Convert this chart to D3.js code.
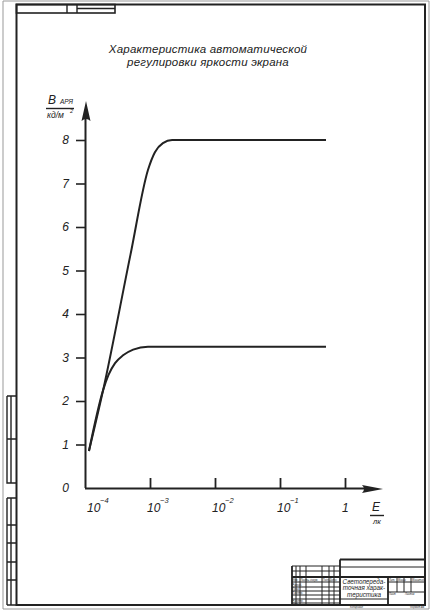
<!DOCTYPE html>
<html>
<head>
<meta charset="utf-8">
<script src="https://cdn.jsdelivr.net/npm/d3@7"></script>
<style>
  body { margin: 0; background: #fff; }
  svg text { font-family: "Liberation Sans", Arial, sans-serif; font-style: italic; fill: #222; }
</style>
</head>
<body>
<div id="chart"></div>
<script>
// x ticks (lux, log scale) and labels
var xTicks = [1e-4, 1e-3, 1e-2, 1e-1, 1];
var xExponents = ["\u22124", "\u22123", "\u22122", "\u22121", ""];
var xBases = ["10", "10", "10", "10", "1"];
// y ticks
var yTicks = [0, 1, 2, 3, 4, 5, 6, 7, 8];

// upper curve
var upperE = [1.15e-4, 1.9e-4, 5e-4, 9.3e-4, 1.19e-3, 1.58e-3, 2.19e-3, 0.51];
var upperB = [0.85, 2.25, 5.36, 7.31, 7.72, 7.93, 8.0, 8.0];
// lower curve
var lowerE = [1.15e-4, 1.9e-4, 2.3e-4, 2.9e-4, 3.85e-4, 5.5e-4, 9.3e-4, 0.51];
var lowerB = [0.85, 2.25, 2.6, 2.87, 3.05, 3.18, 3.25, 3.25];

var W = 431, H = 612;
var ink = "#222";

var svg = d3.select("#chart").append("svg")
    .attr("width", W).attr("height", H);

// ---- sheet frame ----
var sheet = svg.append("g").attr("fill", "none").attr("stroke", ink);
sheet.append("path").attr("d", "M3,1V609H429V1Z").attr("stroke", "#999").attr("stroke-width", 1);
sheet.append("rect").attr("x", 16.5).attr("y", 4.5).attr("width", 408.5).attr("height", 600.5).attr("stroke-width", 2);

// top-left stamp
sheet.append("rect").attr("x", 16.5).attr("y", 4.5).attr("width", 98.5).attr("height", 8.5).attr("stroke-width", 1.6);
sheet.append("path").attr("d", "M67,4.5V13M77,4.5V13M77,8.5H115").attr("stroke-width", 1.4);

// left side strips
var strip2 = [498, 525, 543, 562, 580, 605];
sheet.append("path").attr("stroke-width", 1.4)
    .attr("d", "M7,396V483H16M7,396H16M11,396V483M7,439H16");
sheet.append("path").attr("stroke-width", 1.4)
    .attr("d", "M7,498V605M11,498V605" + strip2.map(function(v){ return "M7," + v + "H16"; }).join(""));

// title block
var tb = svg.append("g").attr("fill", "none").attr("stroke", ink);
tb.append("path").attr("stroke-width", 1.8)
    .attr("d", "M340,559.5H425M340,559.5V605M292,566V605M292,577H425M388,577V605");
tb.append("path").attr("stroke-width", 1)
    .attr("d", "M340,567H425M292,566H340M292,571H340" +
        "M296,566V605M300,566V605M306,566V605M322,566V605M329,566V605M334,566V605" +
        "M292,582H340M292,587H340M292,591H340M292,595H340M292,599H340M292,603H340" +
        "M388,582H425M388,592H425M397,577V592M404,577V592M411,577V592M340,599H388");

var tbText = svg.append("g").style("font-size", "6.3px");
[["Светопереда-", 583.5], ["точная харак-", 590], ["теристика", 596.5]].forEach(function(d){
    tbText.append("text").attr("x", 364).attr("y", d[1]).attr("text-anchor", "middle").text(d[0]);
});
var tiny = svg.append("g").style("font-size", "2.6px").style("font-style", "normal");
[["Изм.", 292.5, 581], ["Лист", 300.5, 581], ["№ докум.", 306.5, 581], ["Подп.", 322.5, 581], ["Дата", 329.5, 581],
 ["Разраб.", 292.5, 586], ["Пров.", 292.5, 590], ["Т.контр.", 292.5, 594], ["Н.контр.", 292.5, 602], ["Утв.", 292.5, 604.5],
 ["Лит.", 389, 581], ["Масса", 398, 581], ["Масштаб", 412, 581], ["Лист", 389, 595], ["Листов", 405, 595],
 ["Копировал", 350, 608], ["Формат A4", 410, 608]].forEach(function(d){
    tiny.append("text").attr("x", d[1]).attr("y", d[2]).text(d[0]);
});

// ---- chart ----
var x = d3.scaleLog().domain([1e-4, 1]).range([85, 345]);
var y = d3.scaleLinear().domain([0, 8]).range([488, 140]);

// title
var title = svg.append("g").style("font-size", "11.5px").attr("text-anchor", "middle");
title.append("text").attr("x", 208).attr("y", 53).attr("letter-spacing", 0.2).text("Характеристика автоматической");
title.append("text").attr("x", 208).attr("y", 66).attr("letter-spacing", 0.2).text("регулировки яркости экрана");

// x axis ticks (pointing up), no labels from the axis
var xAxis = d3.axisBottom(x).tickValues(xTicks.slice(1)).tickSize(-10).tickFormat("");
var gx = svg.append("g").attr("transform", "translate(0,488)").call(xAxis);
gx.select(".domain").remove();
gx.selectAll(".tick line").attr("stroke", ink).attr("stroke-width", 1.8);

// y axis ticks (pointing left)
var yAxis = d3.axisLeft(y).tickValues(yTicks).tickSize(9).tickPadding(8);
var gy = svg.append("g").attr("transform", "translate(85,0)").call(yAxis);
gy.select(".domain").remove();
gy.selectAll(".tick line").attr("stroke", ink).attr("stroke-width", 1.6)
    .filter(function(d){ return d === 0; }).remove();
gy.selectAll(".tick text").attr("font-family", null).attr("font-size", null)
    .style("font-size", "12px").attr("x", -16);

// axis lines with arrows
svg.append("path").attr("fill", "none").attr("stroke", ink).attr("stroke-width", 2)
    .attr("d", "M85.5,488V112M85,488.5H368");
svg.append("path").attr("fill", ink)
    .attr("d", "M86,101L90.5,121Q86,117 81.5,121Z");
svg.append("path").attr("fill", ink)
    .attr("d", "M383,489L362,485Q366,489 362,493Z");

// x labels
var xl = svg.append("g").style("font-size", "12px");
xTicks.forEach(function(t, i){
    var px = x(t) + (i === 0 ? 2 : -3);
    xl.append("text").attr("x", px).attr("y", 512).text(xBases[i]);
    if (xExponents[i]) {
        xl.append("text").attr("x", px + 13).attr("y", 503).style("font-size", "7.5px").text(xExponents[i]);
    }
});

// axis titles
svg.append("text").attr("x", 48).attr("y", 104).style("font-size", "12px").text("B");
svg.append("text").attr("x", 60).attr("y", 104).style("font-size", "6.5px").text("АРЯ");
svg.append("path").attr("stroke", ink).attr("stroke-width", 1.4).attr("d", "M46,108.5H74");
svg.append("text").attr("x", 47).attr("y", 118).style("font-size", "8.5px").text("кд/м");
svg.append("text").attr("x", 70).attr("y", 113).style("font-size", "5.5px").text("2");

svg.append("text").attr("x", 372).attr("y", 511).style("font-size", "12px").text("E");
svg.append("path").attr("stroke", ink).attr("stroke-width", 1.4).attr("d", "M370,515.5H384");
svg.append("text").attr("x", 373).attr("y", 524).style("font-size", "7.5px").text("лк");

// curves
var line = d3.line()
    .x(function(d){ return x(d[0]); })
    .y(function(d){ return y(d[1]); })
    .curve(d3.curveMonotoneX);

[[upperE, upperB], [lowerE, lowerB]].forEach(function(s){
    svg.append("path")
        .datum(d3.zip(s[0], s[1]))
        .attr("fill", "none").attr("stroke", ink).attr("stroke-width", 2)
        .attr("d", line);
});
</script>
</body>
</html>
